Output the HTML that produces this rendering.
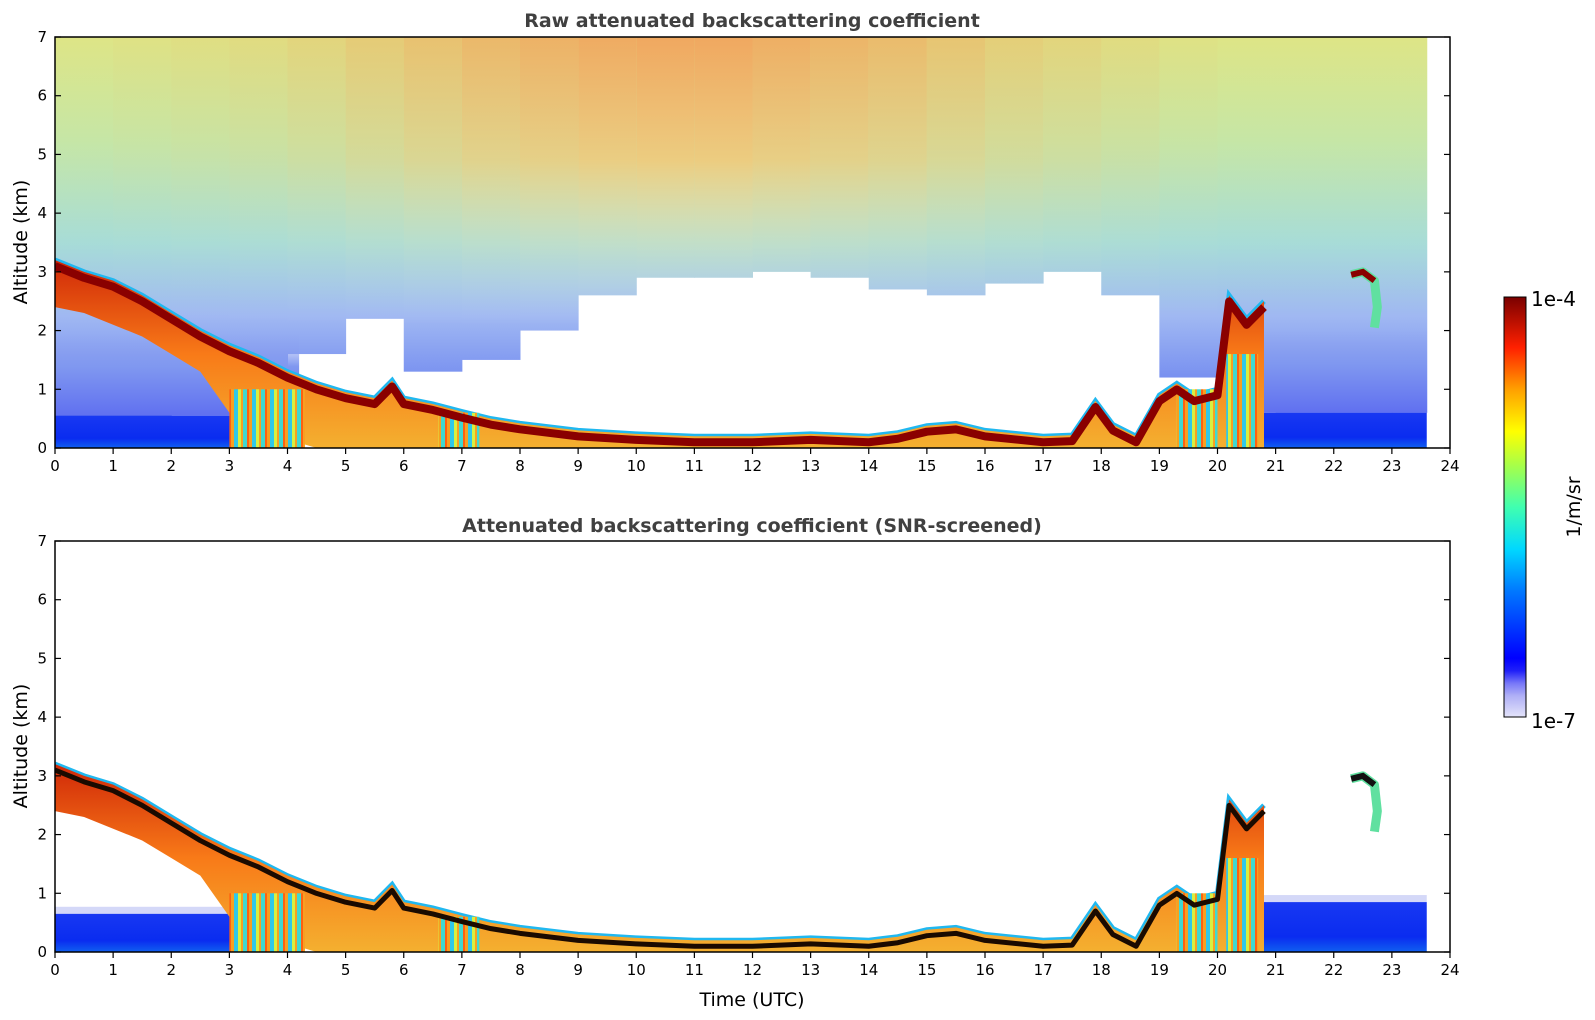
<!DOCTYPE html>
<html><head><meta charset="utf-8">
<style>
html,body{margin:0;padding:0;background:#fff;width:1595px;height:1020px;overflow:hidden}
svg{display:block;font-family:"DejaVu Sans","Liberation Sans",sans-serif}
</style></head>
<body>
<svg id="chart" width="1595" height="1020" viewBox="0 0 1595 1020" xmlns="http://www.w3.org/2000/svg">
<defs>
  <linearGradient id="coolNoise" gradientUnits="userSpaceOnUse" x1="0" y1="37" x2="0" y2="448">
    <stop offset="0" stop-color="#dde888"/>
    <stop offset="0.25" stop-color="#c4e8a8"/>
    <stop offset="0.5" stop-color="#a6dcd8"/>
    <stop offset="0.68" stop-color="#a0b8f2"/>
    <stop offset="0.86" stop-color="#7088f0"/>
    <stop offset="1" stop-color="#4058f0"/>
  </linearGradient>
  <linearGradient id="warmNoise" gradientUnits="userSpaceOnUse" x1="0" y1="37" x2="0" y2="448">
    <stop offset="0" stop-color="#f0a860"/>
    <stop offset="0.3" stop-color="#eccc80"/>
    <stop offset="0.55" stop-color="#e6e8c0" stop-opacity="0.3"/>
    <stop offset="0.7" stop-color="#ffffff" stop-opacity="0"/>
  </linearGradient>
  <linearGradient id="cbar" x1="0" y1="1" x2="0" y2="0">
    <stop offset="0" stop-color="#e4e4fa"/>
    <stop offset="0.05" stop-color="#b0b0f6"/>
    <stop offset="0.08" stop-color="#7878f8"/>
    <stop offset="0.11" stop-color="#2020f8"/>
    <stop offset="0.14" stop-color="#0000ff"/>
    <stop offset="0.3" stop-color="#0078ff"/>
    <stop offset="0.4" stop-color="#00d8ff"/>
    <stop offset="0.5" stop-color="#40ffb0"/>
    <stop offset="0.6" stop-color="#a8ff48"/>
    <stop offset="0.68" stop-color="#ffff00"/>
    <stop offset="0.78" stop-color="#ffa000"/>
    <stop offset="0.88" stop-color="#ff2000"/>
    <stop offset="1" stop-color="#7a0000"/>
  </linearGradient>
  <linearGradient id="plumeFill" x1="0" y1="0" x2="0" y2="1">
    <stop offset="0" stop-color="#d02808"/>
    <stop offset="0.5" stop-color="#f87a18"/>
    <stop offset="1" stop-color="#f4b030"/>
  </linearGradient>
  <linearGradient id="blueBand" x1="0" y1="0" x2="0" y2="1">
    <stop offset="0" stop-color="#1838f2"/>
    <stop offset="0.7" stop-color="#0a2cf0"/>
    <stop offset="1" stop-color="#1060f0"/>
  </linearGradient>
  <linearGradient id="lavBand" x1="0" y1="0" x2="0" y2="1">
    <stop offset="0" stop-color="#90a4f0" stop-opacity="0"/>
    <stop offset="0.4" stop-color="#8098f0"/>
    <stop offset="1" stop-color="#6070f0"/>
  </linearGradient>
  <pattern id="streaks" patternUnits="userSpaceOnUse" width="18" height="10">
    <rect x="0" y="0" width="18" height="10" fill="#f8a020"/>
    <rect x="0" y="0" width="4" height="10" fill="#30c8e8"/>
    <rect x="4" y="0" width="3" height="10" fill="#d8f040"/>
    <rect x="9" y="0" width="4" height="10" fill="#40d8d0"/>
    <rect x="13" y="0" width="2" height="10" fill="#ff6010"/>
  </pattern>
  <clipPath id="clipTop"><rect x="55" y="37" width="1395" height="411"/></clipPath>
  <clipPath id="clipBot"><rect x="55" y="541" width="1395" height="411"/></clipPath>
</defs>
<g id="top-layer"></g>
<g id="bot-layer"></g>
<g id="axes"></g>
<text x="752" y="27" text-anchor="middle" font-size="19" font-weight="bold" fill="#404040">Raw attenuated backscattering coefficient</text>
<text x="752" y="532" text-anchor="middle" font-size="19" font-weight="bold" fill="#404040">Attenuated backscattering coefficient (SNR-screened)</text>
<text x="752" y="1006" text-anchor="middle" font-size="19" fill="#000">Time (UTC)</text>
<text transform="translate(27,242) rotate(-90)" text-anchor="middle" font-size="19" fill="#000">Altitude (km)</text>
<text transform="translate(27,746) rotate(-90)" text-anchor="middle" font-size="19" fill="#000">Altitude (km)</text>
<rect x="1504" y="297" width="22" height="420" fill="url(#cbar)" stroke="#000" stroke-width="1"/>
<text x="1531" y="306" font-size="20" fill="#000">1e-4</text>
<text x="1531" y="728" font-size="20" fill="#000">1e-7</text>
<text transform="translate(1580,507) rotate(-90)" text-anchor="middle" font-size="19" fill="#000">1/m/sr</text>
</svg>
<script>
// ---- data ----
const layerTimes = [0,0.5,1,1.5,2,2.5,3,3.5,4,4.5,5,5.5,5.8,6,6.5,7,7.5,8,9,10,11,12,13,14,14.5,15,15.5,16,17,17.5,17.9,18.2,18.6,19,19.3,19.6,20,20.2,20.5,20.8];
const layerTop   = [3.2,3.0,2.85,2.6,2.3,2.0,1.75,1.55,1.3,1.1,0.95,0.85,1.15,0.85,0.75,0.62,0.5,0.42,0.3,0.24,0.2,0.2,0.24,0.2,0.26,0.38,0.42,0.3,0.2,0.22,0.8,0.4,0.2,0.9,1.1,0.9,1.0,2.6,2.2,2.5];
const layerBase  = [2.4,2.3,2.1,1.9,1.6,1.3,0.6,0.35,0.15,0,0,0,0,0,0,0,0,0,0,0,0,0,0,0,0,0,0,0,0,0,0,0,0,0,0,0,0,0,0,0];
const noiseHours = [0,1,2,3,4,5,6,7,8,9,10,11,12,13,14,15,16,17,18,19,20,21,22,23];
const noiseStartKm = [0.5,0.5,0.6,0.8,1.6,2.2,1.3,1.5,2.0,2.6,2.9,2.9,3.0,2.9,2.7,2.6,2.8,3.0,2.6,1.2,0.8,0.6,0.6,0.6];
const noiseWarmth = [0.05,0.1,0.15,0.2,0.3,0.45,0.6,0.75,0.85,0.95,1.0,1.0,0.9,0.8,0.7,0.55,0.4,0.3,0.2,0.1,0.05,0.05,0.05,0.05];
const dataEndHour = 23.6;
const groundBands = [[0,4.2,0.55],[20.7,23.6,0.6]];
const groundBandsScreened = [[0,4.2,0.65],[20.7,23.6,0.85]];
const streakZones = [[3.0,4.3,1.0],[6.6,7.3,0.6],[19.3,20.0,1.0],[20.15,20.7,1.6]];
const xTicks = [0,1,2,3,4,5,6,7,8,9,10,11,12,13,14,15,16,17,18,19,20,21,22,23,24];
const yTicks = [0,1,2,3,4,5,6,7];
const cloudTimes = [22.3,22.5,22.7,22.75,22.7];
const cloudKm    = [2.95,3.0,2.85,2.4,2.05];

// ---- axes ----
const X0=55, X1=1450, H=411;
const panels = {top:{y0:448,y7:37,g:'top-layer',clip:'clipTop'}, bot:{y0:952,y7:541,g:'bot-layer',clip:'clipBot'}};
const NS='http://www.w3.org/2000/svg';
function xS(h){return X0 + h*(X1-X0)/24;}
function yS(km,p){return panels[p].y0 - km*H/7;}
function mk(tag,attrs,parent){const e=document.createElementNS(NS,tag);for(const k in attrs)e.setAttribute(k,attrs[k]);parent.appendChild(e);return e;}

function drawPanel(p){
  const root=document.getElementById(panels[p].g);
  const g=mk('g',{'clip-path':'url(#'+panels[p].clip+')'},root);
  const raw = p==='top';
  if(raw){
    noiseHours.forEach((h,i)=>{
      const x=xS(h), w=xS(Math.min(h+1,dataEndHour))-x;
      const r=mk('rect',{x:x,y:yS(7,p),width:w+0.5,height:yS(noiseStartKm[i],p)-yS(7,p),fill:'url(#coolNoise)'},g);
      
      
      const r2=mk('rect',{x:x,y:yS(7,p),width:w+0.5,height:yS(noiseStartKm[i],p)-yS(7,p),fill:'url(#warmNoise)',opacity:noiseWarmth[i]},g);
      
      
    });
  }
  const bands = raw?groundBands:groundBandsScreened;
  bands.forEach(b=>{
    if(raw){
      const l=mk('rect',{x:xS(b[0]),y:yS(b[2]+1.4,p),width:xS(b[1])-xS(b[0]),height:yS(b[2],p)-yS(b[2]+1.4,p),fill:'url(#lavBand)'},g);
      
      
    } else {
      const l=mk('rect',{x:xS(b[0]),y:yS(b[2]+0.12,p),width:xS(b[1])-xS(b[0]),height:yS(b[2],p)-yS(b[2]+0.12,p),fill:'#d4d8f8'},g);
      
      
    }
    const r=mk('rect',{x:xS(b[0]),y:yS(b[2],p),width:xS(b[1])-xS(b[0]),height:yS(0,p)-yS(b[2],p),fill:'url(#blueBand)'},g);
    
    
  });
  let pts=[];
  layerTimes.forEach((t,i)=>pts.push(xS(t)+','+yS(layerTop[i],p)));
  for(let i=layerTimes.length-1;i>=0;i--) pts.push(xS(layerTimes[i])+','+yS(layerBase[i],p));
  const halo=mk('polyline',{points:layerTimes.map((t,i)=>xS(t)+','+yS(layerTop[i],p)).join(' '),fill:'none',stroke:'#20b8f0',"stroke-width":5},g);
  
  
  const poly=mk('polygon',{points:pts.join(' '),fill:'url(#plumeFill)'},g);
  
  
  streakZones.forEach(s=>{
    const r=mk('rect',{x:xS(s[0]),y:yS(s[2],p),width:xS(s[1])-xS(s[0]),height:yS(0,p)-yS(s[2],p),fill:'url(#streaks)'},g);
    
    
  });
  const line=mk('polyline',{points:layerTimes.map((t,i)=>xS(t)+','+(yS(layerTop[i],p)+6)).join(' '),fill:'none',stroke:raw?'#8a0000':'#1a0a00',"stroke-width":raw?8:5,"stroke-linejoin":"round"},g);
  
  
  const cl=mk('polyline',{points:cloudTimes.map((t,i)=>xS(t)+','+yS(cloudKm[i],p)).join(' '),fill:'none',stroke:'#60e0a0',"stroke-width":9,"stroke-linejoin":"round"},g);
  
  
  const ct=mk('polyline',{points:cloudTimes.slice(0,3).map((t,i)=>xS(t)+','+yS(cloudKm[i],p)).join(' '),fill:'none',stroke:raw?'#8a0000':'#111',"stroke-width":6},g);
  
  

  const ax=document.getElementById('axes');
  const fr=mk('rect',{x:X0,y:panels[p].y7,width:X1-X0,height:H,fill:'none',stroke:'#000',"stroke-width":1.5},ax);
  
  
  xTicks.forEach(t=>{
    const x=xS(t);
    const tk=mk('line',{x1:x,x2:x,y1:yS(0,p),y2:yS(0,p)+6,stroke:'#000',"stroke-width":1.2},ax);
    
    
    const tx=mk('text',{x:x,y:yS(0,p)+23,"text-anchor":"middle","font-size":15},ax);
    tx.textContent=t;
    
    
  });
  yTicks.forEach(v=>{
    const y=yS(v,p);
    const tk=mk('line',{x1:X0,x2:X0+6,y1:y,y2:y,stroke:'#000',"stroke-width":1.2},ax);
    
    
    const tk2=mk('line',{x1:X1-6,x2:X1,y1:y,y2:y,stroke:'#000',"stroke-width":1.2},ax);
    
    
    const tx=mk('text',{x:X0-8,y:y+5,"text-anchor":"end","font-size":15},ax);
    tx.textContent=v;
    
    
  });
}
drawPanel('top');
drawPanel('bot');
</script>
</body></html>
